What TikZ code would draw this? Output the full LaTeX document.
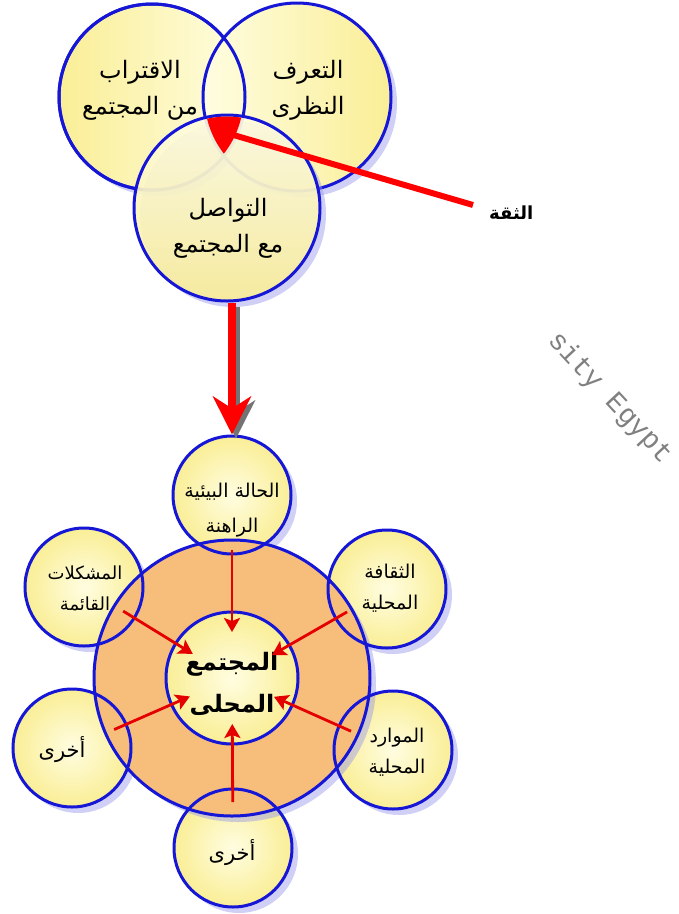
\documentclass[tikz,border=0pt]{standalone}
\usepackage{fontspec}
\newfontfamily\arabicfont[Script=Arabic]{DejaVu Sans}
\newfontfamily\markfont{Liberation Mono}
\TeXXeTstate=1
\usetikzlibrary{arrows.meta,shadows,positioning}
\definecolor{rim}{RGB}{22,22,215}
\definecolor{pale}{RGB}{255,253,225}
\definecolor{straw}{RGB}{250,238,150}
\definecolor{peach}{RGB}{246,190,122}
\definecolor{haze}{RGB}{150,150,235}
\newcommand{\arline}[1]{\beginR #1\endR}

\begin{document}
\begin{tikzpicture}[x=1pt, y=-1pt,
    ring/.style={circle, draw=rim, line width=3pt, inner sep=0pt},
    halo/.style={drop shadow={shadow xshift=6pt, shadow yshift=-6pt, fill=haze, opacity=.45}},
    caption/.style={font=\arabicfont\fontsize{19}{31}\selectfont, align=center, inner sep=1pt},
    bigcap/.style={caption, font=\arabicfont\fontsize{24}{36}\selectfont},
    spoke/.style={draw=red!90!black, line width=2.8pt, shorten <=46pt, shorten >=46pt,
                  -{Stealth[length=14pt, width=16pt, inset=3pt]}}]
\useasboundingbox (0,0) rectangle (679,914);

% three overlapping circles
\node[ring, halo, minimum size=186pt, left color=straw, right color=pale] (near) at (152,97) {};
\node[ring, halo, minimum size=188pt, left color=pale, right color=straw] (know) at (297,97) {};
\draw[rim, line width=3pt] (near.center) circle (93);
\node[ring, halo, minimum size=186pt, top color=pale, bottom color=straw, fill opacity=.9] (meet) at (227,208) {};

% where all three meet
\begin{scope}
  \clip (near.center) circle (91.5);
  \clip (know.center) circle (92.5);
  \fill[red] (meet.center) circle (91.5);
\end{scope}

\node[bigcap] (near-t) at (140,90) {\arline{الاقتراب}\\\arline{من المجتمع}};
\node[bigcap] (know-t) at (308,90) {\arline{التعرف}\\\arline{النظرى}};
\node[bigcap] (meet-t) at (228,228) {\arline{التواصل}\\\arline{مع المجتمع}};

\coordinate (apex) at (230,134);
\node[font=\arabicfont\bfseries\fontsize{18}{20}\selectfont, anchor=west, inner sep=0pt] (trust) at (489,213) {\arline{الثقة}};
\draw[red, line width=6pt] (apex) -- ([xshift=-16pt, yshift=8pt]trust.west);

% petal centres
\coordinate (c-state)   at (232,495);
\coordinate (c-issues)  at (84,587);
\coordinate (c-culture) at (387,589);
\coordinate (c-otherL)  at (72,748);
\coordinate (c-assets)  at (393,750);
\coordinate (c-otherB)  at (233,848);

% petal fills go under the orange disc
\foreach \c in {state,issues,culture,otherL,assets,otherB}
  \fill[halo, inner color=pale, outer color=straw] (c-\c) circle (59);
\node[ring, halo, minimum size=276pt, fill=peach] (hub) at (232,678) {};
\foreach \c in {state,issues,culture,otherL,assets,otherB}
  \node[ring, minimum size=118pt] (\c) at (c-\c) {};
\node[ring, minimum size=132pt, inner color=pale, outer color=straw] (core) at (232,678) {};

\node[caption, font=\arabicfont\fontsize{19}{35}\selectfont] (state-t) at (232,510) {\arline{الحالة البيئية}\\\arline{الراهنة}};
\node[caption, font=\arabicfont\fontsize{18}{31}\selectfont] (issues-t) at (85,588) {\arline{المشكلات}\\\arline{القائمة}};
\node[caption] (culture-t) at (390,588) {\arline{الثقافة}\\\arline{المحلية}};
\node[caption, font=\arabicfont\fontsize{21}{31}\selectfont] (otherL-t) at (62,750) {\arline{أخرى}};
\node[caption] (assets-t)  at (397,752) {\arline{الموارد}\\\arline{المحلية}};
\node[caption, font=\arabicfont\fontsize{21}{31}\selectfont] (otherB-t) at (232,853) {\arline{أخرى}};
\node[caption, font=\arabicfont\bfseries\fontsize{24}{42}\selectfont] (core-t) at (232,684) {\arline{المجتمع}\\\arline{المحلى}};

% arrows into the centre
\draw[spoke, shorten <=55pt] (state.center) -- (core.center);
\foreach \c in {issues,culture,otherL,assets,otherB}
  \draw[spoke] (\c.center) -- (core.center);

% big arrow down
\draw[black!55, line width=8pt, -{Stealth[length=38pt, width=38pt, inset=12pt]}]
  ([xshift=9pt, yshift=-4pt]meet.south) -- ([xshift=4pt, yshift=-4pt]state.north);
\draw[red, line width=8pt, -{Stealth[length=38pt, width=38pt, inset=12pt]}]
  ([xshift=5pt]meet.south) -- (state.north);

\node[rotate=-47, text=gray, font=\markfont\fontsize{28}{30}\selectfont, inner sep=0pt] (mark) at (610,398) {sity Egypt};
\end{tikzpicture}
\end{document}
